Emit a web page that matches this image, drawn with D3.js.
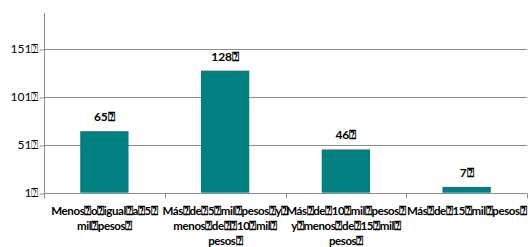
<!DOCTYPE html>
<html>
<head>
<meta charset="utf-8">
<script src="https://cdn.jsdelivr.net/npm/d3@7"></script>
<style>
  body { margin: 0; background: #fff; }
</style>
</head>
<body>
<div id="vis"></div>
<script>
const Q = '\u2370';
const categories = ['c1', 'c2', 'c3', 'c4'];
const values = [65, 128, 46, 7];
const valueLabels = ['65' + Q, '128' + Q, '46' + Q, '7' + Q];
const categoryLines = [
    ['Menos' + Q + 'o' + Q + 'igual' + Q + 'a' + Q + '5' + Q, 'mil' + Q + 'pesos' + Q],
    ['Más' + Q + 'de' + Q + '5' + Q + 'mil' + Q + 'pesos' + Q + 'y' + Q, 'menos' + Q + 'de' + Q + Q + '10' + Q + 'mil' + Q, 'pesos' + Q],
    ['Más' + Q + 'de' + Q + '10' + Q + 'mil' + Q + 'pesos' + Q, 'y' + Q + 'menos' + Q + 'de' + Q + '15' + Q + 'mil' + Q, 'pesos' + Q],
    ['Más' + Q + 'de' + Q + '15' + Q + 'mil' + Q + 'pesos' + Q]
];
const yTicks = [1, 51, 101, 151];

const width = 528;
const height = 247;
const margin = {top: 13, right: 1, bottom: 55, left: 44};
const font = 'Lato, "Liberation Sans", Arial, sans-serif';

const svg = d3.select('#vis')
    .append('svg')
    .attr('width', width)
    .attr('height', height);

const x = d3.scaleBand()
    .domain(categories)
    .range([margin.left, width - margin.right])
    .paddingInner(0.6)
    .paddingOuter(0.3);

const y = d3.scaleLinear()
    .domain([1, 188])
    .range([height - margin.bottom + 0.7, margin.top]);

// gridlines
svg.append('g')
    .selectAll('line')
    .data(yTicks.slice(1))
    .join('line')
    .attr('x1', margin.left)
    .attr('x2', width - margin.right)
    .attr('y1', d => Math.round(y(d)) + 0.5)
    .attr('y2', d => Math.round(y(d)) + 0.5)
    .attr('stroke', '#8c8c8c')
    .attr('stroke-width', 1);

// y axis
const yAxis = svg.append('g')
    .attr('transform', `translate(${margin.left + 0.5},0)`)
    .call(d3.axisLeft(y).tickValues(yTicks).tickSize(5).tickFormat(d => d + Q));
yAxis.select('.domain').remove();
yAxis.selectAll('.tick line').attr('stroke', '#8c8c8c').attr('transform', d => `translate(0,${Math.round(y(d)) + 0.5 - y(d)})`);
yAxis.selectAll('.tick text')
    .attr('x', -6)
    .attr('fill', '#000')
    .attr('font-family', font)
    .attr('font-size', '12px');
svg.append('line')
    .attr('x1', margin.left + 0.5)
    .attr('x2', margin.left + 0.5)
    .attr('y1', margin.top)
    .attr('y2', Math.round(y(1)) + 0.5)
    .attr('stroke', '#8c8c8c');

// x axis line + ticks at category boundaries
const x0 = margin.left;
const catW = (width - margin.right - margin.left) / categories.length;
svg.append('line')
    .attr('x1', margin.left)
    .attr('x2', width - margin.right)
    .attr('y1', Math.round(y(1)) + 0.5)
    .attr('y2', Math.round(y(1)) + 0.5)
    .attr('stroke', '#8c8c8c');
svg.append('g')
    .selectAll('line')
    .data(d3.range(categories.length + 1))
    .join('line')
    .attr('x1', i => Math.round(x0 + i * catW) + 0.5)
    .attr('x2', i => Math.round(x0 + i * catW) + 0.5)
    .attr('y1', Math.round(y(1)) + 0.5)
    .attr('y2', Math.round(y(1)) + 5.5)
    .attr('stroke', '#8c8c8c');

// bars
svg.append('g')
    .selectAll('rect')
    .data(values)
    .join('rect')
    .attr('x', (d, i) => x(categories[i]))
    .attr('width', x.bandwidth())
    .attr('y', d => y(d))
    .attr('height', d => y(1) - y(d))
    .attr('fill', '#008080');

// value labels
svg.append('g')
    .selectAll('text')
    .data(values)
    .join('text')
    .attr('x', (d, i) => x(categories[i]) + x.bandwidth() / 2)
    .attr('y', d => y(d) - 10)
    .attr('text-anchor', 'middle')
    .attr('font-family', font)
    .attr('font-weight', 'bold')
    .attr('font-size', '12px')
    .text((d, i) => valueLabels[i]);

// category labels
const catG = svg.append('g');
categoryLines.forEach((lines, i) => {
    const cx = x(categories[i]) + x.bandwidth() / 2;
    const t = catG.append('text')
        .attr('x', cx)
        .attr('y', 214.5)
        .attr('text-anchor', 'middle')
        .attr('font-family', font)
        .attr('font-weight', 'bold')
        .attr('font-size', '11.5px')
        .attr('letter-spacing', '-0.4px');
    lines.forEach((ln, j) => {
        t.append('tspan')
            .attr('x', cx)
            .attr('dy', j === 0 ? 0 : 15)
            .text(ln);
    });
});
</script>
</body>
</html>
